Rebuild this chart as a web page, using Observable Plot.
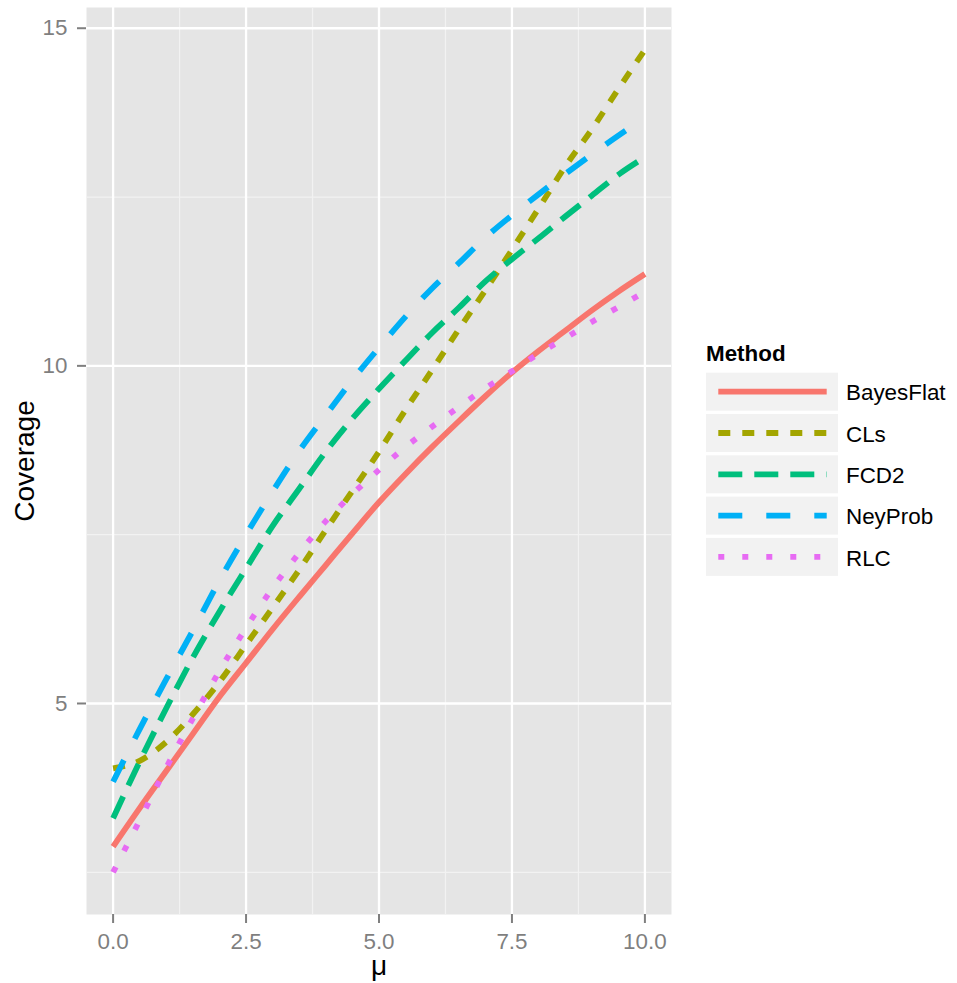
<!DOCTYPE html>
<html><head><meta charset="utf-8">
<script src="https://cdn.jsdelivr.net/npm/d3@7"></script>
<script src="https://cdn.jsdelivr.net/npm/@observablehq/plot@0.6"></script>
<style>
body{margin:0;background:#fff}
#wrap{position:relative;width:957px;height:983px;font-family:"Liberation Sans",Arial,Helvetica,sans-serif}
#legend{position:absolute;left:700px;top:330px}
</style>
</head><body><div id="wrap"></div>
<script>
// ---- data ----
const mu = [0,0.5,1,1.5,2,2.5,3,3.5,4,4.5,5,5.5,6,6.5,7,7.5,8,8.5,9,9.5,10];
const methods = ["BayesFlat","CLs","FCD2","NeyProb","RLC"];
const bayesFlat = [2.88,3.45,4.0,4.55,5.1,5.6,6.1,6.58,7.05,7.52,7.98,8.4,8.8,9.18,9.55,9.9,10.22,10.52,10.82,11.1,11.36];
const cls       = [4.04,4.15,4.43,4.84,5.32,5.87,6.42,6.98,7.57,8.15,8.73,9.35,9.94,10.54,11.12,11.72,12.33,12.95,13.5,14.1,14.68];
const fcd2      = [3.30,4.14,4.93,5.68,6.36,7.0,7.63,8.18,8.73,9.22,9.66,10.08,10.49,10.86,11.25,11.58,11.89,12.21,12.52,12.83,13.09];
const neyProb   = [3.84,4.62,5.36,6.08,6.82,7.5,8.14,8.74,9.27,9.79,10.27,10.73,11.15,11.52,11.9,12.23,12.54,12.84,13.13,13.41,13.67];
const rlc       = [2.5,3.27,4.05,4.78,5.48,6.12,6.71,7.23,7.7,8.1,8.46,8.8,9.1,9.39,9.67,9.92,10.18,10.41,10.65,10.87,11.1];
const seriesValues = [bayesFlat, cls, fcd2, neyProb, rlc];
const xTicks = [0,2.5,5,7.5,10];
const xMinor = [1.25,3.75,6.25,8.75];
const yTicks = [5,10,15];
const yMinor = [2.5,7.5,12.5];

// ---- styles ----
const colors = ["#F8766D","#A3A500","#00BF7D","#00B0F6","#E76BF3"];
const u = 6; // dash unit (line width)
const dashes = [null, `${2*u},${2*u}`, `${4*u},${2*u}`, `${4*u},${4*u}`, `${1*u},${3*u}`];
const LW = 5.8;

const rows = [];
methods.forEach((m, i) => mu.forEach((x, j) => rows.push({method: m, mu: x, value: seriesValues[i][j]})));

const lineMarks = methods.map((m, i) => Plot.line(rows.filter(r => r.method === m), {
  x: "mu", y: "value", stroke: colors[i], strokeWidth: LW,
  strokeDasharray: dashes[i] || undefined, strokeLinecap: "butt", strokeLinejoin: "round",
  curve: "monotone-x"
}));

const chart = Plot.plot({
  width: 957, height: 983,
  marginLeft: 86, marginRight: 286, marginTop: 7, marginBottom: 69,
  style: {fontFamily: '"Liberation Sans",Arial,Helvetica,sans-serif', background: "white", overflow: "visible"},
  x: {domain: [-0.5, 10.5]},
  y: {domain: [1.875, 15.307]},
  marks: [
    Plot.frame({fill: "#E5E5E5", stroke: "none"}),
    Plot.ruleX(xMinor, {stroke: "#F2F2F2", strokeWidth: 1.2}),
    Plot.ruleY(yMinor, {stroke: "#F2F2F2", strokeWidth: 1.2}),
    Plot.ruleX(xTicks, {stroke: "white", strokeWidth: 2.3}),
    Plot.ruleY(yTicks, {stroke: "white", strokeWidth: 2.3}),
    Plot.axisX({ticks: xTicks, tickSize: 9, tickPadding: 10, tickFormat: d => d.toFixed(1),
      color: "#7F7F7F", strokeWidth: 2, fontSize: 22.4, label: null}),
    Plot.axisY({ticks: yTicks, tickSize: 9, tickPadding: 10, tickFormat: d => String(d),
      color: "#7F7F7F", strokeWidth: 2, fontSize: 22.4, label: null}),
    ...lineMarks,
    Plot.text(["Coverage"], {text: d => d, frameAnchor: "left", rotate: -90, dx: -53,
      lineAnchor: "bottom", textAnchor: "middle", fontSize: 28, fill: "black"}),
    Plot.text(["μ"], {text: d => d, frameAnchor: "bottom", dy: 60,
      lineAnchor: "bottom", textAnchor: "middle", fontSize: 28, fill: "black"})
  ]
});

const wrap = document.getElementById("wrap");
wrap.appendChild(chart);

// ---- legend (HTML-positioned inline SVG) ----
const NS = "http://www.w3.org/2000/svg";
const leg = document.createElementNS(NS, "svg");
leg.setAttribute("id", "legend");
leg.setAttribute("width", 257);
leg.setAttribute("height", 260);
leg.style.fontFamily = '"Liberation Sans",Arial,Helvetica,sans-serif';
const title = document.createElementNS(NS, "text");
title.setAttribute("x", 6); title.setAttribute("y", 31);
title.setAttribute("font-size", 22.4); title.setAttribute("font-weight", "bold");
title.textContent = "Method";
leg.appendChild(title);
methods.forEach((m, i) => {
  const top = 42.7 + 41.3 * i;
  const r = document.createElementNS(NS, "rect");
  r.setAttribute("x", 6); r.setAttribute("y", top); r.setAttribute("width", 132); r.setAttribute("height", 38);
  r.setAttribute("fill", "#F2F2F2");
  leg.appendChild(r);
  const l = document.createElementNS(NS, "line");
  l.setAttribute("x1", 18.3); l.setAttribute("x2", 126.7);
  l.setAttribute("y1", top + 19); l.setAttribute("y2", top + 19);
  l.setAttribute("stroke", colors[i]); l.setAttribute("stroke-width", LW);
  if (dashes[i]) l.setAttribute("stroke-dasharray", dashes[i]);
  leg.appendChild(l);
  const t = document.createElementNS(NS, "text");
  t.setAttribute("x", 146); t.setAttribute("y", top + 27.7);
  t.setAttribute("font-size", 22.4);
  t.textContent = m;
  leg.appendChild(t);
});
wrap.appendChild(leg);
</script></body></html>
